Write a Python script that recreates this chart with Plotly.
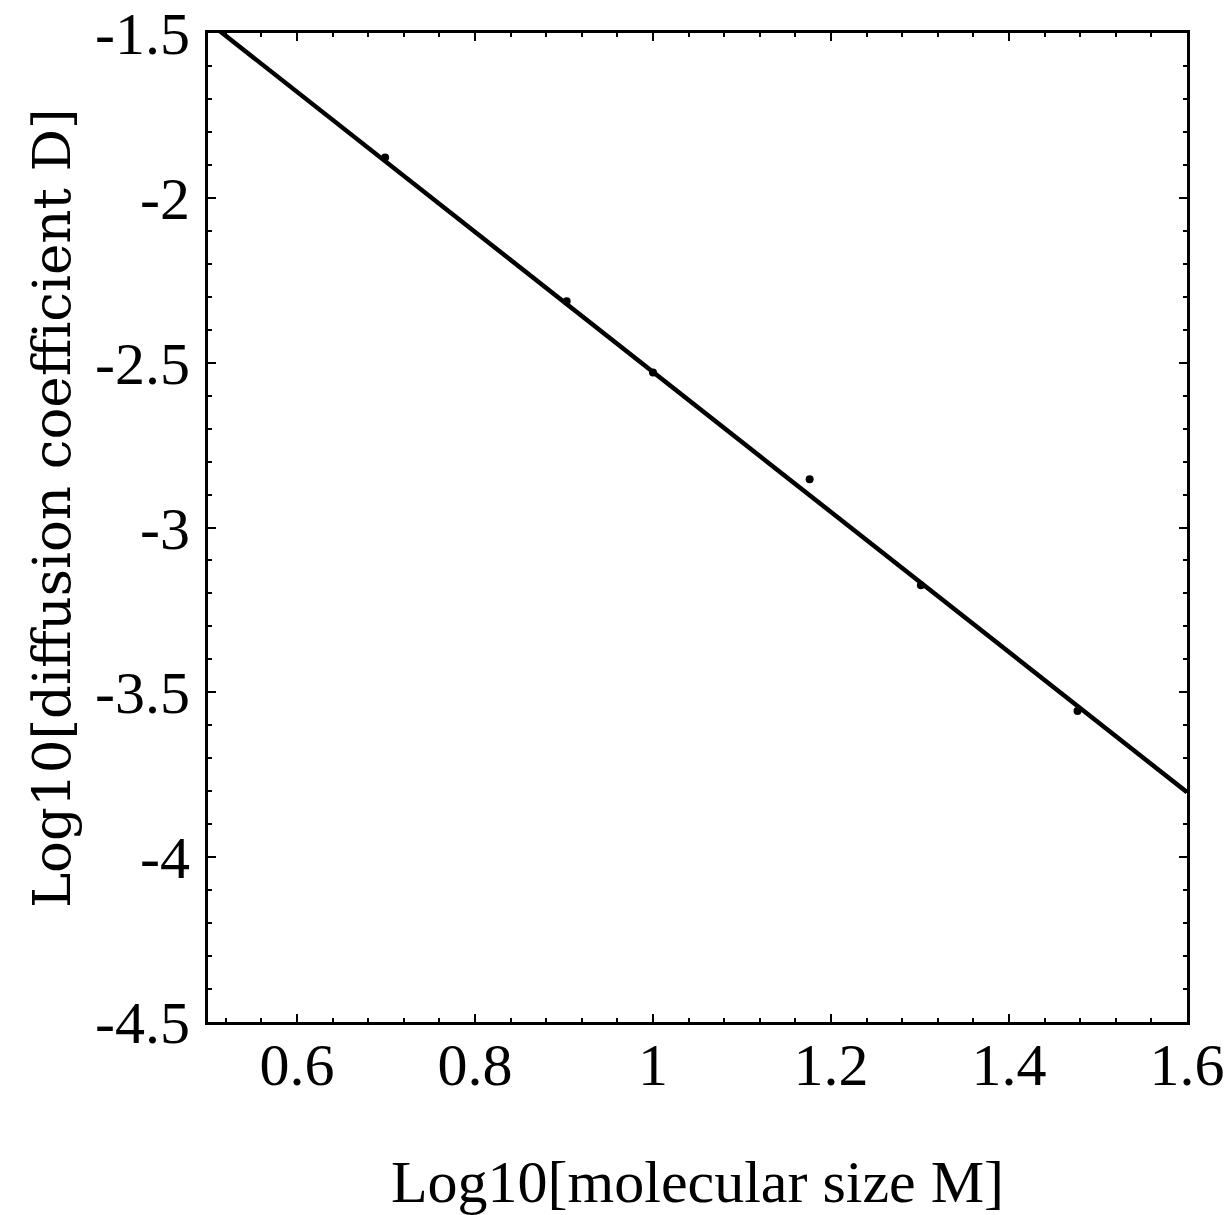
import plotly.graph_objects as go

# measured points: log10 of molecular size vs log10 of diffusion coefficient
size_log = [0.699, 0.903, 1.0, 1.176, 1.301, 1.477]
diff_log = [-1.878, -2.314, -2.530, -2.854, -3.175, -3.557]

# fitted straight line, read at the frame edges
fit_x = [0.5, 1.6]
fit_y = [-1.466, -3.803]

x_tickvals = [0.6, 0.8, 1.0, 1.2, 1.4, 1.6]
x_ticktext = ["0.6", "0.8", "1", "1.2", "1.4", "1.6"]
y_tickvals = [-1.5, -2.0, -2.5, -3.0, -3.5, -4.0, -4.5]
y_ticktext = ["-1.5", "-2", "-2.5", "-3", "-3.5", "-4", "-4.5"]


def main():
    fig = go.Figure()

    fig.add_trace(
        go.Scatter(
            x=fit_x,
            y=fit_y,
            mode="lines",
            line=dict(color="black", width=4.5),
            hoverinfo="skip",
        )
    )
    fig.add_trace(
        go.Scatter(
            x=size_log,
            y=diff_log,
            mode="markers",
            marker=dict(color="black", size=8),
        )
    )

    times = "Liberation Serif, Times New Roman, serif"
    tick_font = dict(family=times, size=60, color="black")

    axis_common = dict(
        showgrid=False,
        zeroline=False,
        showline=True,
        linecolor="black",
        linewidth=3,
        mirror="allticks",
        ticks="inside",
        ticklen=8,
        tickwidth=2,
        tickcolor="black",
        tickfont=tick_font,
        automargin=False,
        ticklabeloverflow="allow",
    )

    fig.update_xaxes(
        range=[0.5, 1.6],
        tickvals=x_tickvals,
        ticktext=x_ticktext,
        ticklabelstandoff=-12,
        minor=dict(dtick=0.04, tick0=0.0, ticks="inside", ticklen=4, tickwidth=1.5, tickcolor="black"),
        title=dict(
            text="Log10[molecular size M]",
            font=dict(family=times, size=60, color="black"),
            standoff=70,
        ),
        **axis_common,
    )
    fig.update_yaxes(
        range=[-4.5, -1.5],
        tickvals=y_tickvals,
        ticktext=y_ticktext,
        ticklabelstandoff=3,
        minor=dict(dtick=0.1, tick0=0.0, ticks="inside", ticklen=4, tickwidth=1.5, tickcolor="black"),
        **axis_common,
    )

    # y title sits a little above the middle of the frame, so place it by hand
    fig.add_annotation(
        text="Log10[diffusion coefficient D]",
        textangle=-90,
        xref="paper",
        yref="paper",
        x=-0.16,
        y=0.52,
        xanchor="center",
        yanchor="middle",
        showarrow=False,
        font=dict(family="DejaVu Serif, serif", size=53, color="black"),
    )

    # the page body adds 8px on top and left, so the figure is 8px smaller
    fig.update_layout(
        width=1223,
        height=1207,
        autosize=False,
        showlegend=False,
        plot_bgcolor="white",
        paper_bgcolor="white",
        margin=dict(l=200, r=44, t=25, b=193),
    )

    fig.write_html("out.html")


if __name__ == "__main__":
    main()
